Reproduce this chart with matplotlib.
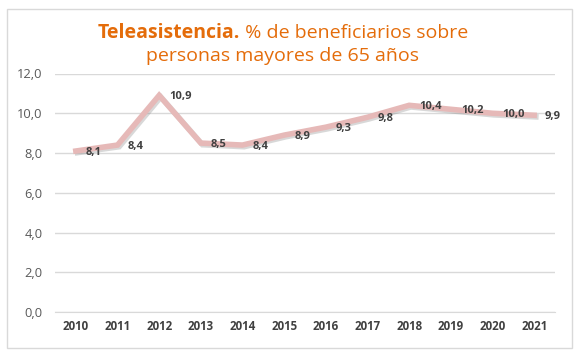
import matplotlib.pyplot as plt
from matplotlib.patches import Rectangle
import matplotlib.patheffects as pe

# datos
anios = ["2010", "2011", "2012", "2013", "2014", "2015",
         "2016", "2017", "2018", "2019", "2020", "2021"]
porcentaje = [8.1, 8.4, 10.9, 8.5, 8.4, 8.9, 9.3, 9.8, 10.4, 10.2, 10.0, 9.9]
yticks = [0, 2, 4, 6, 8, 10, 12]

naranja = "#e46c0a"
rosa = "#e6b9b8"
gris = "#595959"
fuente = "Open Sans"

fig = plt.figure(figsize=(5.85, 3.56), dpi=100)
ax = fig.add_axes([55/585, 1-312/356, 500/585, (312-73.5)/356])

x = list(range(len(anios)))
ax.plot(x, porcentaje, color=rosa, lw=4, solid_joinstyle="miter",
        path_effects=[pe.SimpleLineShadow(offset=(1.2, -1.2), shadow_color="#7f7f7f", alpha=0.3),
                      pe.Normal()], zorder=3)

# etiquetas de los puntos
for xi, v in zip(x, porcentaje):
    ax.annotate(f"{v:.1f}".replace(".", ","), (xi, v), xytext=(10, -1),
                textcoords="offset pixels", ha="left", va="center",
                fontsize=8, fontweight="bold", color="#404040",
                family=fuente, zorder=4)

ax.set_xlim(-0.5, len(anios) - 0.5)
ax.set_ylim(0, 12)
ax.set_xticks(x)
ax.set_xticklabels(anios, fontsize=8.3, fontweight="bold", color="#404040", family=fuente)
ax.set_yticks(yticks)
ax.set_yticklabels([f"{t:.1f}".replace(".", ",") for t in yticks],
                   fontsize=9.3, color=gris, family=fuente)
ax.tick_params(length=0)
ax.tick_params(axis="x", pad=6)
ax.tick_params(axis="y", pad=9)
ax.grid(axis="y", color="#d9d9d9", lw=1)
ax.set_axisbelow(True)
for s in ["top", "right", "left"]:
    ax.spines[s].set_visible(False)
ax.spines["bottom"].set_color("#d9d9d9")

# borde del grafico
fig.patches.append(Rectangle((7/585, 1-348/356), 565/585, 339/356,
                             transform=fig.transFigure, fill=False,
                             edgecolor="#d9d9d9", lw=1))

# titulo en dos partes
cx = 283/585
t1 = fig.text(0, 1-38/356, "Teleasistencia.", fontsize=14, fontweight="bold",
              color=naranja, family=fuente, va="baseline", ha="left")
t2 = fig.text(0, 1-38/356, " % de beneficiarios sobre", fontsize=14,
              color=naranja, family=fuente, va="baseline", ha="left")
r = fig.canvas.get_renderer()
w1 = t1.get_window_extent(r).width
w2 = t2.get_window_extent(r).width
inicio = cx*585 - (w1 + w2)/2
t1.set_x(inicio/585)
t2.set_x((inicio + w1)/585)
fig.text(cx, 1-61/356, "personas mayores de 65 años", fontsize=14,
         color=naranja, family=fuente, va="baseline", ha="center")

fig.savefig("out.png", dpi=100)
